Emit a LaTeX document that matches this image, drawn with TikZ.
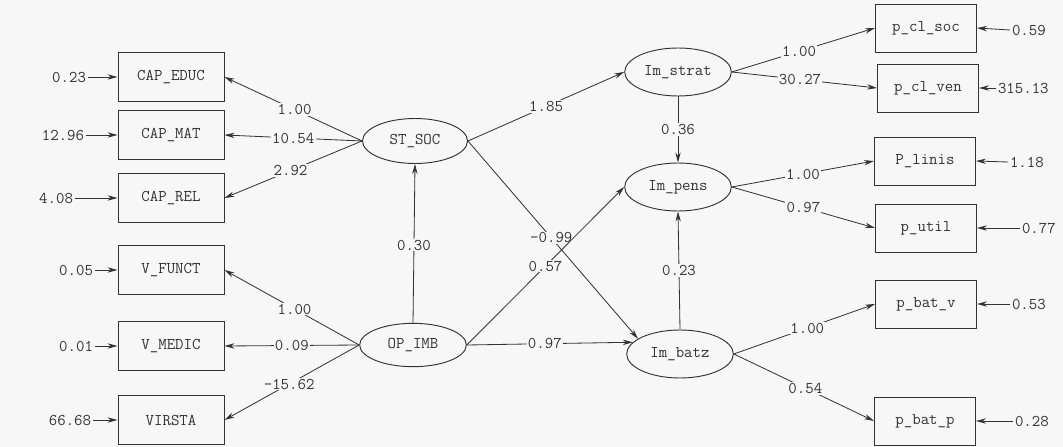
\documentclass[tikz,border=0pt]{standalone}
\usetikzlibrary{arrows.meta,shapes.geometric}

\begin{document}
\begin{tikzpicture}[x=0.3mm,y=-0.3mm,
  every node/.style={font=\ttfamily\fontsize{14}{15}\selectfont, text=black!80},
  obs/.style={draw=black!80, line width=0.8pt, minimum width=31.8mm, minimum height=14.7mm, inner sep=0pt},
  obsr/.style={obs, minimum width=30.3mm, minimum height=14.4mm},
  lat/.style={ellipse, draw=black!80, line width=0.8pt, minimum width=32mm, minimum height=14.4mm, inner sep=0pt},
  err/.style={inner sep=1.5pt},
  lbl/.style={fill=black!3, inner sep=1pt},
  path/.style={draw=black!80, line width=0.7pt, -{Stealth[length=3mm,width=1.6mm]}}]
\fill [black!3] (0,0) rectangle (1063,447);
\useasboundingbox (0,0) rectangle (1063,447);
% observed variables, left
\node [obs] (capeduc) at (171,77) {CAP\_EDUC};
\node [obs] (capmat) at (171,135) {CAP\_MAT};
\node [obs] (caprel) at (171,198) {CAP\_REL};
\node [obs] (vfunct) at (171,270) {V\_FUNCT};
\node [obs] (vmedic) at (171,346) {V\_MEDIC};
\node [obs] (virsta) at (171,420) {VIRSTA};
% latent variables
\node [lat, minimum width=31.5mm, minimum height=13.5mm] (stsoc) at (415,141) {ST\_SOC};
\node [lat, minimum height=13mm] (opimb) at (413,345) {OP\_IMB};
\node [lat] (imstrat) at (678,72) {Im\_strat};
\node [lat] (impens) at (678,187) {Im\_pens};
\node [lat] (imbatz) at (680,354) {Im\_batz};
% observed variables, right
\node [obsr] (pclsoc) at (926,28) {p\_cl\_soc};
\node [obsr] (pclven) at (928,88) {p\_cl\_ven};
\node [obsr] (plinis) at (925,161) {P\_linis};
\node [obsr] (putil) at (926,228) {p\_util};
\node [obsr] (pbatv) at (926,304) {p\_bat\_v};
\node [obsr] (pbatp) at (925,421) {p\_bat\_p};
% error terms
\node [err, anchor=east] (ecapeduc) at (88,77) {0.23};
\node [err, anchor=east] (ecapmat) at (86,135) {12.96};
\node [err, anchor=east] (ecaprel) at (75,198) {4.08};
\node [err, anchor=east] (evfunct) at (95,270) {0.05};
\node [err, anchor=east] (evmedic) at (95,346) {0.01};
\node [err, anchor=east] (evirsta) at (93,420) {66.68};
\node [err, anchor=west] (epclsoc) at (1010,30) {0.59};
\node [err, anchor=west] (epclven) at (996,88) {315.13};
\node [err, anchor=west] (eplinis) at (1008,162) {1.18};
\node [err, anchor=west] (eputil) at (1020,228) {0.77};
\node [err, anchor=west] (epbatv) at (1010,304) {0.53};
\node [err, anchor=west] (epbatp) at (1013,421) {0.28};
\foreach \e/\v in {ecapeduc/capeduc, ecapmat/capmat, ecaprel/caprel,
                   evfunct/vfunct, evmedic/vmedic, evirsta/virsta}
  \draw [path] (\e.east) -- (\v.west);
\foreach \e/\v in {epclsoc/pclsoc, epclven/pclven, eplinis/plinis,
                   eputil/putil, epbatv/pbatv, epbatp/pbatp}
  \draw [path] (\e.west) -- (\v.east);
% loadings
\draw [path] (stsoc.west) -- node [lbl, pos=.49] (lcapeduc) {1.00} (capeduc.east);
\draw [path] (stsoc.west) -- node [lbl, pos=.5] (lcapmat) {10.54} (capmat.east);
\draw [path] (stsoc.west) -- node [lbl, pos=.52] (lcaprel) {2.92} (caprel.east);
\draw [path] (opimb.west) -- node [lbl, pos=.48] (lvfunct) {1.00} (vfunct.east);
\draw [path] (opimb.west) -- node [lbl, pos=.5] (lvmedic) {0.09} (vmedic.east);
\draw [path] (opimb.west) -- node [lbl, pos=.52] (lvirsta) {-15.62} (virsta.east);
\draw [path] (imstrat.east) -- node [lbl, pos=.47] (lpclsoc) {1.00} (pclsoc.west);
\draw [path] (imstrat.east) -- node [lbl, pos=.47] (lpclven) {30.27} (pclven.west);
\draw [path] (impens.east) -- node [lbl, pos=.5] (lplinis) {1.00} (plinis.west);
\draw [path] (impens.east) -- node [lbl, pos=.5] (lputil) {0.97} (putil.west);
\draw [path] (imbatz.east) -- node [lbl, pos=.52] (lpbatv) {1.00} (pbatv.west);
\draw [path] (imbatz.east) -- node [lbl, pos=.51] (lpbatp) {0.54} (pbatp.west);
% structural paths
\draw [path] (opimb.north) -- node [lbl, pos=.49] (lopst) {0.30} (stsoc.south);
\draw [path] (stsoc.east) -- node [lbl, pos=.5] (lststr) {1.85} (imstrat.west);
\draw [path] (stsoc.east) -- node [lbl, pos=.49] (lstbatz) {-0.99} (imbatz.160);
\draw [path] (opimb.east) -- node [lbl, pos=.5] (loppens) {0.57} (impens.west);
\draw [path] (opimb.east) -- node [lbl, pos=.47] (lopbatz) {0.97} (imbatz.166);
\draw [path] (imstrat.south) -- node [lbl, pos=.5] (lstrpens) {0.36} (impens.north);
\draw [path] (imbatz.north) -- node [lbl, pos=.5] (lbatzpens) {0.23} (impens.south);
\end{tikzpicture}
\end{document}
